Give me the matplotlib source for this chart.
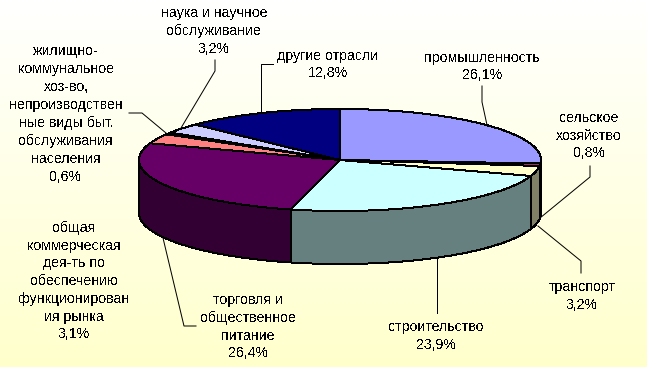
import numpy as np
import matplotlib
matplotlib.use("Agg")
import matplotlib.pyplot as plt
from matplotlib.colors import LinearSegmentedColormap

names = ["промышленность", "сельское\nхозяйство", "транспорт", "строительство",
         "торговля и\nобщественное\nпитание",
         "общая\nкоммерческая\nдея-ть по\nобеспечению\nфункционирован\nия рынка",
         "жилищно-\nкоммунальное\nхоз-во,\nнепроизводствен\nные виды быт.\nобслуживания\nнаселения",
         "наука и научное\nобслуживание", "другие отрасли"]
values = [26.1, 0.8, 3.2, 23.9, 26.4, 3.1, 0.6, 3.2, 12.8]
top_colors = ["#9999FF", "#993366", "#FFFFCC", "#CCFFFF", "#660066", "#FF8080", "#0066CC", "#CCCCFF", "#000080"]
side_colors = ["#4C4C80", "#4C1933", "#808066", "#668080", "#330033", "#804040", "#003366", "#666680", "#000040"]

# label centres, pixels
label_x = [482, 589, 582, 436, 248, 74, 66, 214, 328]
label_y = [66.5, 135.5, 296, 336, 326.5, 281, 114, 31, 64.5]

# leader lines, pixels
leaders = [
    [(482, 86), (482, 102), (487, 125)],
    [(590, 166), (590, 177), (540, 218)],
    [(581, 273), (581, 261), (538, 226)],
    [(437, 313), (437, 258)],
    [(196, 326), (184, 326), (163, 238)],
    [(129, 113), (142, 113), (166, 133)],
    [(215, 60), (215, 71), (181, 128)],
    [(273, 64), (261, 64), (261, 112)],
]

cx, cy, rx, ry, depth = 340, 160, 201, 51, 53

plt.rcParams['font.family'] = ['Liberation Sans', 'DejaVu Sans']
plt.rcParams['text.antialiased'] = False

fig = plt.figure(figsize=(6.47, 3.67), dpi=100)
ax = fig.add_axes([0, 0, 1, 1])
ax.set_xlim(0, 647)
ax.set_ylim(367, 0)
ax.axis('off')

cmap = LinearSegmentedColormap.from_list("bg", ["#FFFFFF", "#FFFFE6", "#FFFFCC"])
grad = np.linspace(0, 1, 256).reshape(-1, 1)
ax.imshow(grad, cmap=cmap, extent=[0, 647, 367, 0], aspect='auto', zorder=0)


def ex(t):
    return cx + rx * np.sin(t)


def ey(t):
    return cy - ry * np.cos(t)


edges = np.cumsum([0] + values) / sum(values) * 2 * np.pi

# walls first
for i in range(len(values)):
    a = max(edges[i], np.pi / 2)
    b = min(edges[i + 1], 3 * np.pi / 2)
    if a >= b:
        continue
    t = np.linspace(a, b, 80)
    xs = np.r_[ex(t), ex(t[::-1])]
    ys = np.r_[ey(t), ey(t[::-1]) + depth]
    ax.fill(xs, ys, facecolor=side_colors[i], edgecolor='black', lw=0.72, antialiased=False, zorder=2)

# top face
for i in range(len(values)):
    t = np.linspace(edges[i], edges[i + 1], 120)
    xs = np.r_[cx, ex(t)]
    ys = np.r_[cy, ey(t)]
    ax.fill(xs, ys, facecolor=top_colors[i], edgecolor='black', lw=0.72, antialiased=False, zorder=3)

for pts in leaders:
    ax.plot([p[0] for p in pts], [p[1] for p in pts], color='black', lw=0.72, zorder=4)

for i in range(len(values)):
    txt = names[i] + "\n" + ("%.1f%%" % values[i]).replace(".", ",")
    ax.text(label_x[i], label_y[i], txt, ha='center', va='center', fontsize=10.2,
            linespacing=1.34, color='black', zorder=5)

fig.savefig("out.png", dpi=100)
